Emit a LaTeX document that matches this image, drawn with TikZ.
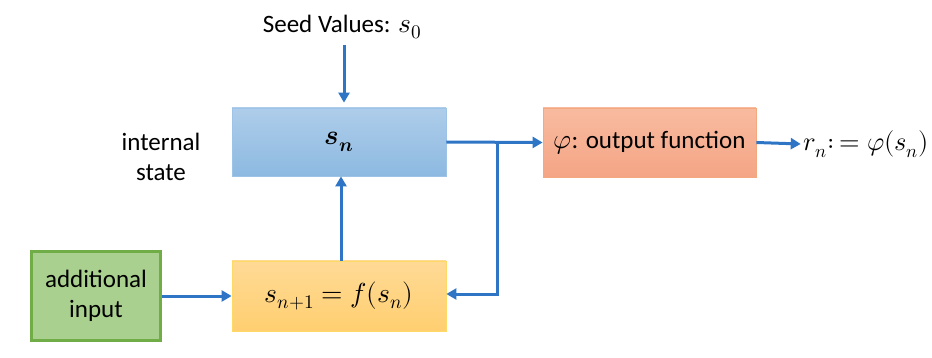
\documentclass[tikz,border=0pt]{standalone}
\usepackage{fontspec}
\usepackage{unicode-math}
\setmainfont{Carlito}
\setmathfont{Latin Modern Math}[Scale=1.1]
\usetikzlibrary{arrows.meta}
\definecolor{arr}{HTML}{2E75C6}
\definecolor{bluetop}{HTML}{AECDEA}
\definecolor{bluebot}{HTML}{8DB9E1}
\definecolor{blueline}{HTML}{9DC3E6}
\definecolor{ortop}{HTML}{FFDA96}
\definecolor{orbot}{HTML}{FFCF70}
\definecolor{orline}{HTML}{FFD966}
\definecolor{rdtop}{HTML}{F8BBA0}
\definecolor{rdbot}{HTML}{F5A585}
\definecolor{rdline}{HTML}{F4A87E}
\definecolor{grfill}{HTML}{A9D08E}
\definecolor{grline}{HTML}{70AD47}
\tikzset{
  box/.style={draw, line width=0.8pt, minimum width=214pt, minimum height=68pt, inner sep=0pt, font=\fontsize{25}{30}\selectfont},
  conn/.style={draw=arr, line width=3pt, -{Triangle[length=10pt,width=11pt]}},
  lbl/.style={font=\fontsize{25}{30}\selectfont, align=center, inner sep=0pt}
}
\begin{document}
\begin{tikzpicture}[x=1pt,y=-1pt]
\useasboundingbox (0,0) rectangle (932,358);
\node[box, draw=blueline, top color=bluetop, bottom color=bluebot] (sn) at (339,142) {$\symbfit{s}_{\symbfit{n}}$};
\node[box, draw=orline, top color=ortop, bottom color=orbot, minimum height=70pt] (f) at (339,296) {$s_{n+1}=f(s_n)$};
\node[box, draw=rdline, top color=rdtop, bottom color=rdbot, minimum width=213pt, minimum height=69pt] (phi) at (649.5,142.5) {$\varphi$: output function};
\node[draw=grline, line width=3pt, fill=grfill, minimum width=129pt, minimum height=89pt, inner sep=0pt, lbl] (add) at (96,296) {additional\\input};
\node[lbl] (seed) at (342,27) {Seed Values: $s_0$};
\node[lbl] (state) at (161,157) {internal\\state};
\node[lbl, font=\fontsize{24}{28}\selectfont, anchor=east] (out) at (929,144) {$r_n{:}\mskip3mu{=}\mskip5mu\varphi(s_n)$};
\coordinate (branch) at (497,142);
\coordinate (seedtop) at (344,45);
\draw[conn] (seedtop) -- ([yshift=5pt]sn.north -| seedtop);
\draw[conn] (f.north -| 341,0) -- (sn.south -| 341,0);
\draw[conn] (add.east |- f) -- (f.west);
\draw[conn] (sn.east) -- (phi.west);
\draw[conn] (branch) -- (branch |- 0,294) -- (f.east |- 0,294);
\draw[conn] (phi.east) -- ([xshift=-3pt]out.west);
\end{tikzpicture}
\end{document}
